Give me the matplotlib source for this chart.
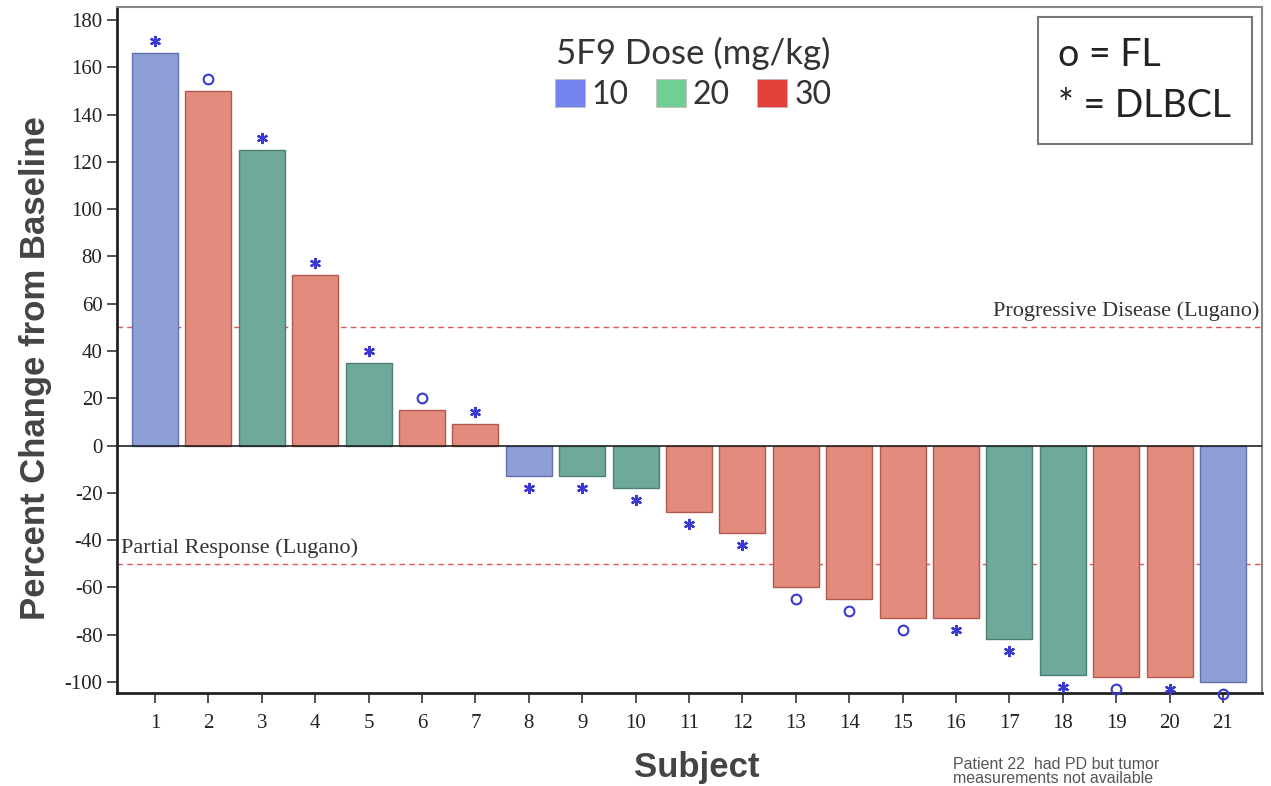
import numpy as np
import matplotlib
matplotlib.use("Agg")
import matplotlib.pyplot as plt
from matplotlib.patches import Patch

plt.rcParams["axes.unicode_minus"] = False

# Waterfall data: best percent change from baseline per subject
subjects = list(range(1, 22))
pct_change = [166, 150, 125, 72, 35, 15, 9, -13, -13, -18, -28, -37,
              -60, -65, -73, -73, -82, -97, -98, -98, -100]
dose = [10, 30, 20, 30, 20, 30, 30, 10, 20, 20, 30, 30,
        30, 30, 30, 30, 20, 20, 30, 30, 10]
histology = ["DLBCL", "FL", "DLBCL", "DLBCL", "DLBCL", "FL", "DLBCL", "DLBCL",
             "DLBCL", "DLBCL", "DLBCL", "DLBCL", "FL", "FL", "FL", "DLBCL",
             "DLBCL", "DLBCL", "FL", "DLBCL", "FL"]
dose_levels = [10, 20, 30]
y_ticks = list(range(-100, 181, 20))

bar_colors = {10: "#8e9fd6", 20: "#6ea99c", 30: "#e38b7d"}
bar_edges = {10: "#6270b0", 20: "#4d7f72", 30: "#b05a4e"}
legend_colors = {10: "#7384ee", 20: "#72cf93", 30: "#e2413b"}

fig = plt.figure(figsize=(12.71, 7.86), dpi=100)
ax = fig.add_axes([0.0921, 0.1183, 0.9008, 0.8728])

ax.bar(subjects, pct_change, width=0.86,
       color=[bar_colors[d] for d in dose],
       edgecolor=[bar_edges[d] for d in dose], linewidth=1.0, zorder=2)

# histology symbols just beyond each bar end
vals = np.array(pct_change, dtype=float)
xs = np.array(subjects)
mark_y = vals + np.sign(vals) * 5
is_fl = np.array([h == "FL" for h in histology])
ax.plot(xs[is_fl], mark_y[is_fl], linestyle="none", marker="o", markersize=7,
        markerfacecolor="none", markeredgecolor="#3a3ad0", markeredgewidth=1.5,
        clip_on=False, zorder=4)
ax.plot(xs[~is_fl], mark_y[~is_fl], linestyle="none", marker=(6, 2, 0),
        markersize=8, markeredgecolor="#3a3ad0", markeredgewidth=1.6,
        clip_on=False, zorder=4)

# zero line and Lugano thresholds
ax.axhline(0, color="#222222", linewidth=1.2, zorder=3)
ax.axhline(50, color="#e05555", linewidth=1.0, linestyle=(0, (4, 3)), zorder=1)
ax.axhline(-50, color="#e05555", linewidth=1.0, linestyle=(0, (4, 3)), zorder=1)
ax.text(21.68, 52.5, "Progressive Disease (Lugano)", ha="right", va="bottom",
        family="Liberation Serif", fontsize=16, color="#333333")
ax.text(0.36, -47.5, "Partial Response (Lugano)", ha="left", va="bottom",
        family="Liberation Serif", fontsize=16, color="#333333")

ax.set_xlim(0.29, 21.73)
ax.set_ylim(-104.7, 185.5)
ax.set_xticks(subjects)
ax.set_yticks(y_ticks)
ax.tick_params(axis="both", direction="out", length=7, width=1.2,
               color="#333333", labelsize=15, labelcolor="#222222")
ax.tick_params(axis="x", pad=8)
for lab in ax.get_xticklabels() + ax.get_yticklabels():
    lab.set_family("Liberation Serif")

for side in ["left", "bottom"]:
    ax.spines[side].set_color("#222222")
    ax.spines[side].set_linewidth(2.0)
for side in ["top", "right"]:
    ax.spines[side].set_color("#888888")
    ax.spines[side].set_linewidth(1.5)

ylab = ax.set_ylabel("Percent Change from Baseline", family="Liberation Sans",
                     fontsize=25, fontweight="bold", color="#444444")
ylab.set_va("center")
ax.yaxis.set_label_coords(-0.0716, 0.474)
xlab = ax.set_xlabel("Subject", family="Liberation Sans", fontsize=25,
                     fontweight="bold", color="#444444")
xlab.set_va("center")
ax.xaxis.set_label_coords(0.5066, -0.109)

# dose legend
handles = [Patch(facecolor=legend_colors[d], edgecolor="#bbbbbb", linewidth=0.5)
           for d in dose_levels]
leg = ax.legend(handles, [str(d) for d in dose_levels], title="5F9 Dose (mg/kg)",
                ncol=3, loc="upper center", bbox_to_anchor=(0.503, 0.985),
                frameon=False, handlelength=0.94, handleheight=0.94,
                handletextpad=0.22, columnspacing=0.85,
                borderaxespad=0.2, labelspacing=0.3,
                prop={"family": "Lato", "size": 23})
leg.get_title().set_family("Lato")
leg.get_title().set_fontsize(25)
leg.get_title().set_color("#333333")
for t in leg.get_texts():
    t.set_color("#333333")

# histology key
ax.text(0.822, 0.956, "o = FL\n* = DLBCL", transform=ax.transAxes,
        ha="left", va="top", multialignment="left", family="Lato",
        fontsize=27, color="#222222", linespacing=1.5,
        bbox=dict(boxstyle="square,pad=0.55", facecolor="white",
                  edgecolor="#777777", linewidth=1.5))

fig.text(0.750, 0.037, "Patient 22  had PD but tumor\nmeasurements not available",
         ha="left", va="top", family="Liberation Sans", fontsize=11.5,
         color="#555555", linespacing=0.95)

fig.savefig("out.png", dpi=100)
